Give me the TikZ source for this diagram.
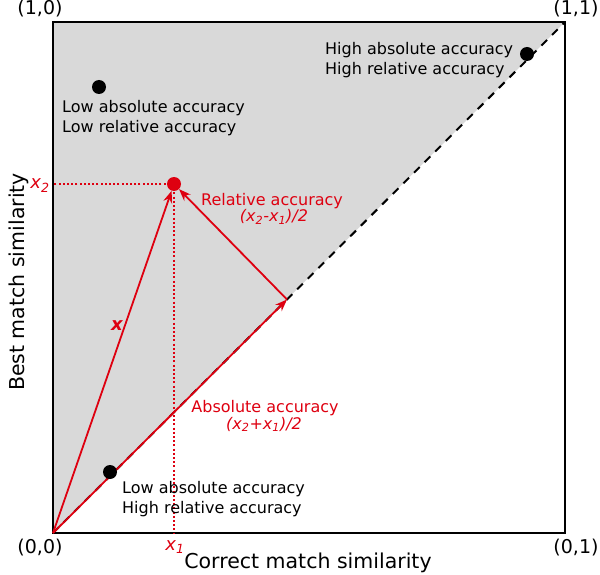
\documentclass[tikz,border=0pt]{standalone}
\usepackage{fontspec}
\setmainfont{DejaVu Sans}
\usetikzlibrary{arrows.meta}
\definecolor{accred}{RGB}{222,0,16}
\definecolor{bggray}{gray}{0.85}
\begin{document}
\begin{tikzpicture}[x=1pt,y=-1pt,
  frame/.style={draw=black,line width=2pt},
  diag/.style={draw=black,line width=2pt,dash pattern=on 8pt off 7pt},
  redarrow/.style={draw=accred,line width=1.8pt,-{Stealth[length=12pt,width=9pt]}},
  reddotted/.style={draw=accred,line width=2pt,dash pattern=on 2pt off 2.2pt},
  blackdot/.style={circle,fill=black,minimum size=14pt,inner sep=0pt},
  reddot/.style={circle,fill=accred,minimum size=14pt,inner sep=0pt},
  txt/.style={font=\fontsize{16}{19}\selectfont,inner sep=0pt,anchor=base west},
  redtxt/.style={font=\fontsize{16}{19}\selectfont,inner sep=0pt,anchor=base,text=accred},
  redbig/.style={font=\fontsize{18}{21}\selectfont,inner sep=0pt,anchor=base,text=accred},
  corner/.style={font=\fontsize{19}{22}\selectfont,inner sep=0pt,anchor=base},
  axis/.style={font=\fontsize{20.5}{24}\selectfont,inner sep=0pt,anchor=base}]
\useasboundingbox (0,0) rectangle (600,575);
\coordinate (O) at (53,533);
\coordinate (C) at (53,22);
\coordinate (B) at (565,22);
\coordinate (P) at (287,299.5);
\coordinate (Rx) at (53,184);
\coordinate (Ry) at (174,533);
\fill[bggray] (O) -- (C) -- (B) -- cycle;
\draw[diag] (O) -- (B);
\draw[frame] (O) rectangle (B);
% dotted projections
\node[reddot] (R) at (174,184) {};
\draw[reddotted] (R.center) -- (Rx);
\draw[reddotted] (R.center) -- (Ry);
% arrows
\draw[redarrow] (O) -- (P);
\draw[redarrow] (P) -- (R);
\draw[redarrow] (O) -- (R);
% black dots
\node[blackdot] (d1) at (99,87) {};
\node[blackdot] (d2) at (527,54) {};
\node[blackdot] (d3) at (110,472) {};
% texts
\node[txt] (t1a) at (62,113) {Low absolute accuracy};
\node[txt] (t1b) at (62,133) {Low relative accuracy};
\node[txt] (t2a) at (325,55) {High absolute accuracy};
\node[txt] (t2b) at (325,75) {High relative accuracy};
\node[txt] (t3a) at (122,493) {Low absolute accuracy};
\node[txt] (t3b) at (122,513) {High relative accuracy};
\node[redtxt] (rel) at (272,205) {Relative accuracy};
\node[redtxt] (relf) at (274,222) {\itshape (x\textsubscript{2}-x\textsubscript{1})/2};
\node[redtxt] (abs) at (265,412) {Absolute accuracy};
\node[redtxt] (absf) at (264,429) {\itshape (x\textsubscript{2}+x\textsubscript{1})/2};
\node[redbig] (xl) at (117,330) {\bfseries\itshape x};
\node[redbig] (x2l) at (40,189) {\itshape x\textsubscript{2}};
\node[redbig] (x1l) at (175,550) {\itshape x\textsubscript{1}};
% corners
\node[corner] (c10) at (40,15) {(1,0)};
\node[corner] (c11) at (576,15) {(1,1)};
\node[corner] (c00) at (40,553) {(0,0)};
\node[corner] (c01) at (576,553) {(0,1)};
% axis labels
\node[axis] (xa) at (308,568) {Correct match similarity};
\node[axis,rotate=90] (ya) at (24,282) {Best match similarity};
\end{tikzpicture}
\end{document}
